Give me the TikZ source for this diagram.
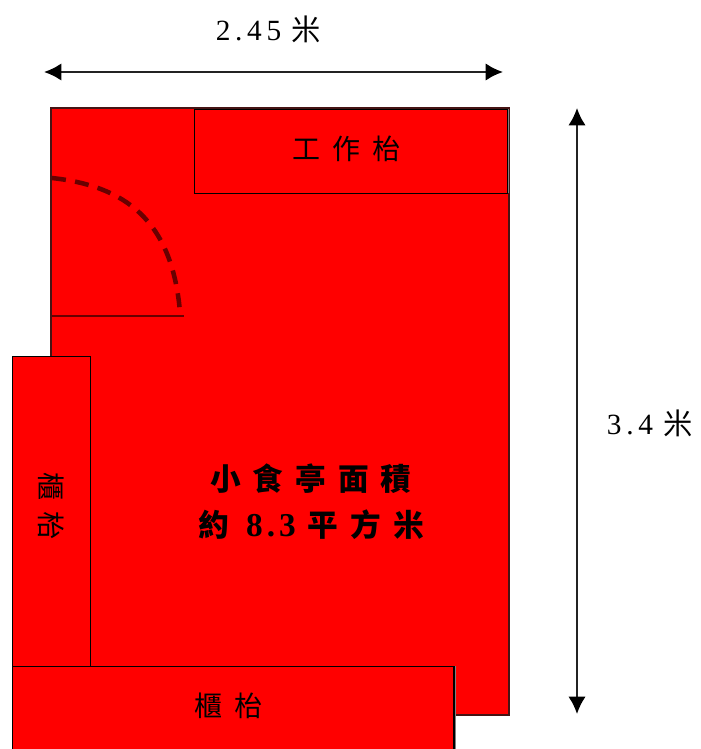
\documentclass[tikz,border=0pt]{standalone}
\usepackage{fontspec}
\setmainfont{Liberation Serif}
\newfontfamily\cjk{Noto Sans CJK TC}
\newfontfamily\spaced[LetterSpace=16]{Liberation Serif}
\newfontfamily\spacedbold[LetterSpace=12]{Liberation Serif Bold}
\usetikzlibrary{arrows.meta}
\definecolor{room}{RGB}{255,0,0}
\definecolor{doorc}{RGB}{105,0,0}
\newcommand\gapa{\hspace{9pt}}
\newcommand\gapb{\hspace{9pt}}
\tikzset{
  x=0.75pt,y=-0.75pt,
  unit/.style={draw=black,fill=room,line width=1.1pt,inner sep=0pt},
  labelcjk/.style={font=\fontsize{21}{24}\selectfont\cjk,text=black,inner sep=0pt},
  title/.style={font=\fontsize{23}{34.5}\selectfont\bfseries\cjk,text=black,inner sep=0pt,align=center},
  dimtext/.style={font=\fontsize{22}{26}\selectfont\spaced,text=black,inner sep=0pt},
  dimline/.style={draw={rgb,255:red,35;green,35;blue,35},line width=1.5pt,{Latex[length=13pt,width=13pt,color=black]}-{Latex[length=13pt,width=13pt,color=black]}},
  door/.style={draw=doorc,line width=3.4pt,dash pattern=on 10.5pt off 7pt},
  sill/.style={draw=doorc,line width=1.4pt}
}
\begin{document}
\begin{tikzpicture}
\useasboundingbox (0,0) rectangle (700,749);
\fill[white] (0,0) rectangle (700,749);
% room
\draw[draw={rgb,255:red,70;green,20;blue,20},fill=room,line width=1.4pt] (51,108) rectangle (509,715);
% door
\coordinate (doorA) at (52,178);
\coordinate (doorB) at (180,312);
\coordinate (sillA) at (52,316);
\coordinate (sillB) at (184,316);
\draw[door] (doorA) .. controls (125,186) and (172,220) .. (doorB);
\draw[sill] (sillA) -- (sillB);
% furniture
\draw[gray,line width=1.8pt] (508,109) -- (508,193);
\draw[gray,line width=1.8pt] (455,666) -- (455,749);
\node[unit,anchor=north west,minimum width=234.5pt,minimum height=63pt] (bench) at (194,109) {};
\node[unit,anchor=north west,minimum width=58.5pt,minimum height=232.5pt] (cabL) at (12,356) {};
\node[unit,anchor=north west,minimum width=331pt,minimum height=63pt] (cabB) at (12,666) {};
% labels
\node[labelcjk] (t1) at (346.5,149) {工\gapa 作\gapa 枱};
\node[labelcjk] (t2) at (228.5,706) {櫃\gapa 枱};
\node[labelcjk,rotate=-90] (t3) at (51.5,506) {櫃\gapa 枱};
\node[title] (t4) at (311,501.5) {小\gapb 食\gapb 亭\gapb 面\gapb 積\\約\hspace{13pt}{\spacedbold\fontsize{25}{34.5}\selectfont 8.3}\hspace{9pt}平\gapb 方\gapb 米};
% dimensions
\node[dimtext] (d1) at (268.5,29) {2.45\hspace{8pt}{\cjk\fontsize{22}{26}\selectfont 米}};
\node[dimtext] (d2) at (650,423) {3.4\hspace{8pt}{\cjk\fontsize{22}{26}\selectfont 米}};
\coordinate (hA) at (44,72);
\coordinate (hB) at (503,72);
\coordinate (vA) at (577,108);
\coordinate (vB) at (577,714);
\draw[dimline] (hA) -- (hB);
\draw[dimline] (vA) -- (vB);
\end{tikzpicture}
\end{document}
